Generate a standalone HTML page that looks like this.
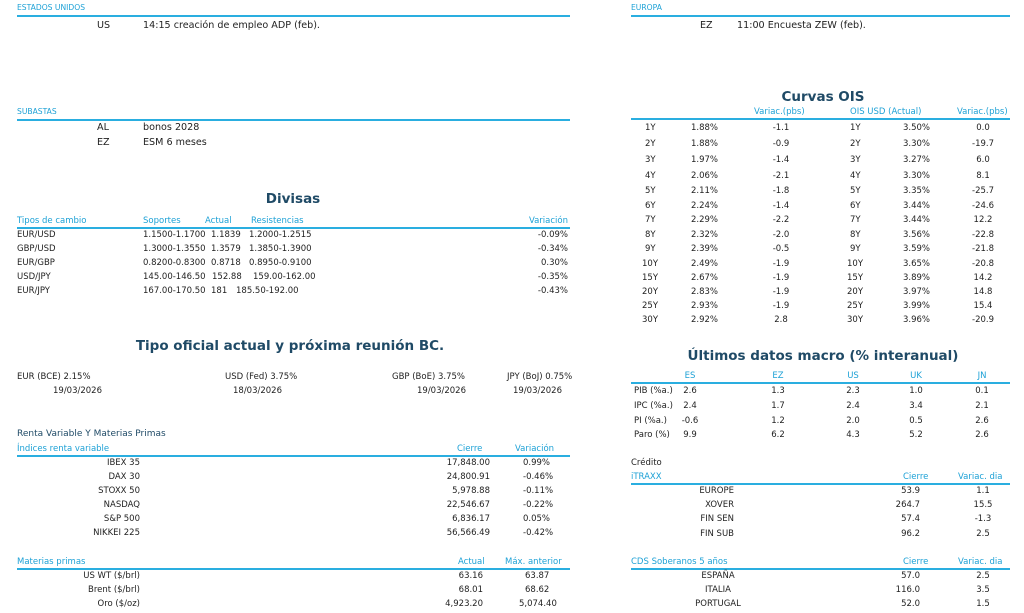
<!DOCTYPE html>
<html><head><meta charset="utf-8"><style>
body{margin:0;width:1024px;height:613px;background:#fff;position:relative;overflow:hidden;font-family:"DejaVu Sans","Liberation Sans",sans-serif;font-size:8.5px;color:#222}
span{position:absolute;white-space:nowrap;line-height:10px;transform:translateY(-50%)}
.r{transform:translate(-100%,-50%)}.c{transform:translate(-50%,-50%)}
.b{color:#1da1d6}
.s{font-size:7.6px}
.e{font-size:9.6px}
.h{font-size:13.5px;font-weight:bold;color:#1f4a66;line-height:18px}
.l{position:absolute;height:2px;background:#2aaee0}
.d{color:#1f4a66;font-size:9px}
</style></head><body>
<span class="b s" style="left:17px;top:8px">ESTADOS UNIDOS</span><div class="l" style="left:17px;width:553px;top:15px"></div>
<span class="e" style="left:97px;top:26px">US</span><span class="e" style="left:143px;top:26px">14:15 creación de empleo ADP (feb).</span>
<span class="b s" style="left:17px;top:112px">SUBASTAS</span><div class="l" style="left:17px;width:553px;top:119px"></div>
<span class="e" style="left:97px;top:128px">AL</span><span class="e" style="left:143px;top:128px">bonos 2028</span>
<span class="e" style="left:97px;top:143px">EZ</span><span class="e" style="left:143px;top:143px">ESM 6 meses</span>
<span class="h c" style="left:293px;top:199px">Divisas</span>
<span class="b" style="left:17px;top:221px">Tipos de cambio</span><span class="b" style="left:143px;top:221px">Soportes</span><span class="b" style="left:205px;top:221px">Actual</span><span class="b" style="left:251px;top:221px">Resistencias</span><span class="b r" style="left:568px;top:221px">Variación</span>
<div class="l" style="left:17px;width:553px;top:227px"></div>
<span style="left:17px;top:235px">EUR/USD</span><span style="left:143px;top:235px">1.1500-1.1700</span><span style="left:211px;top:235px">1.1839</span><span style="left:249px;top:235px">1.2000-1.2515</span><span class="r" style="left:568px;top:235px">-0.09%</span>
<span style="left:17px;top:249px">GBP/USD</span><span style="left:143px;top:249px">1.3000-1.3550</span><span style="left:211px;top:249px">1.3579</span><span style="left:249px;top:249px">1.3850-1.3900</span><span class="r" style="left:568px;top:249px">-0.34%</span>
<span style="left:17px;top:263px">EUR/GBP</span><span style="left:143px;top:263px">0.8200-0.8300</span><span style="left:211px;top:263px">0.8718</span><span style="left:249px;top:263px">0.8950-0.9100</span><span class="r" style="left:568px;top:263px">0.30%</span>
<span style="left:17px;top:277px">USD/JPY</span><span style="left:143px;top:277px">145.00-146.50</span><span style="left:212px;top:277px">152.88</span><span style="left:253px;top:277px">159.00-162.00</span><span class="r" style="left:568px;top:277px">-0.35%</span>
<span style="left:17px;top:291px">EUR/JPY</span><span style="left:143px;top:291px">167.00-170.50</span><span style="left:211px;top:291px">181</span><span style="left:236px;top:291px">185.50-192.00</span><span class="r" style="left:568px;top:291px">-0.43%</span>
<span class="h c" style="left:290px;top:346px">Tipo oficial actual y próxima reunión BC.</span>
<span style="left:17px;top:377px">EUR (BCE) 2.15%</span><span style="left:225px;top:377px">USD (Fed) 3.75%</span><span style="left:392px;top:377px">GBP (BoE) 3.75%</span><span style="left:507px;top:377px">JPY (BoJ) 0.75%</span>
<span style="left:53px;top:391px">19/03/2026</span><span style="left:233px;top:391px">18/03/2026</span><span style="left:417px;top:391px">19/03/2026</span><span style="left:513px;top:391px">19/03/2026</span>
<span class="d" style="left:17px;top:434px">Renta Variable Y Materias Primas</span>
<span class="b" style="left:17px;top:449px">Índices renta variable</span><span class="b" style="left:457px;top:449px">Cierre</span><span class="b" style="left:515px;top:449px">Variación</span>
<div class="l" style="left:17px;width:553px;top:455px"></div>
<span class="r" style="left:140px;top:463px">IBEX 35</span><span class="r" style="left:490px;top:463px">17,848.00</span><span style="left:523px;top:463px">0.99%</span>
<span class="r" style="left:140px;top:477px">DAX 30</span><span class="r" style="left:490px;top:477px">24,800.91</span><span style="left:523px;top:477px">-0.46%</span>
<span class="r" style="left:140px;top:491px">STOXX 50</span><span class="r" style="left:490px;top:491px">5,978.88</span><span style="left:523px;top:491px">-0.11%</span>
<span class="r" style="left:140px;top:505px">NASDAQ</span><span class="r" style="left:490px;top:505px">22,546.67</span><span style="left:523px;top:505px">-0.22%</span>
<span class="r" style="left:140px;top:519px">S&amp;P 500</span><span class="r" style="left:490px;top:519px">6,836.17</span><span style="left:523px;top:519px">0.05%</span>
<span class="r" style="left:140px;top:533px">NIKKEI 225</span><span class="r" style="left:490px;top:533px">56,566.49</span><span style="left:523px;top:533px">-0.42%</span>
<span class="b" style="left:17px;top:562px">Materias primas</span><span class="b" style="left:458px;top:562px">Actual</span><span class="b" style="left:505px;top:562px">Máx. anterior</span>
<div class="l" style="left:17px;width:553px;top:568px"></div>
<span class="r" style="left:140px;top:576px">US WT ($/brl)</span><span class="r" style="left:483px;top:576px">63.16</span><span style="left:525px;top:576px">63.87</span>
<span class="r" style="left:140px;top:590px">Brent ($/brl)</span><span class="r" style="left:483px;top:590px">68.01</span><span style="left:525px;top:590px">68.62</span>
<span class="r" style="left:140px;top:604px">Oro ($/oz)</span><span class="r" style="left:483px;top:604px">4,923.20</span><span style="left:519px;top:604px">5,074.40</span>

<span class="b s" style="left:631px;top:8px">EUROPA</span><div class="l" style="left:631px;width:379px;top:15px"></div>
<span class="e" style="left:700px;top:26px">EZ</span><span class="e" style="left:737px;top:26px">11:00 Encuesta ZEW (feb).</span>
<span class="h c" style="left:823px;top:97px">Curvas OIS</span>
<span class="b" style="left:754px;top:112px">Variac.(pbs)</span><span class="b" style="left:850px;top:112px">OIS USD (Actual)</span><span class="b" style="left:957px;top:112px">Variac.(pbs)</span>
<div class="l" style="left:631px;width:379px;top:118px"></div>
<span style="left:645px;top:128px">1Y</span><span style="left:691px;top:128px">1.88%</span><span class="c" style="left:781px;top:128px">-1.1</span><span style="left:850px;top:128px">1Y</span><span class="r" style="left:930px;top:128px">3.50%</span><span class="c" style="left:983px;top:128px">0.0</span>
<span style="left:645px;top:144px">2Y</span><span style="left:691px;top:144px">1.88%</span><span class="c" style="left:781px;top:144px">-0.9</span><span style="left:850px;top:144px">2Y</span><span class="r" style="left:930px;top:144px">3.30%</span><span class="c" style="left:983px;top:144px">-19.7</span>
<span style="left:645px;top:160px">3Y</span><span style="left:691px;top:160px">1.97%</span><span class="c" style="left:781px;top:160px">-1.4</span><span style="left:850px;top:160px">3Y</span><span class="r" style="left:930px;top:160px">3.27%</span><span class="c" style="left:983px;top:160px">6.0</span>
<span style="left:645px;top:176px">4Y</span><span style="left:691px;top:176px">2.06%</span><span class="c" style="left:781px;top:176px">-2.1</span><span style="left:850px;top:176px">4Y</span><span class="r" style="left:930px;top:176px">3.30%</span><span class="c" style="left:983px;top:176px">8.1</span>
<span style="left:645px;top:191px">5Y</span><span style="left:691px;top:191px">2.11%</span><span class="c" style="left:781px;top:191px">-1.8</span><span style="left:850px;top:191px">5Y</span><span class="r" style="left:930px;top:191px">3.35%</span><span class="c" style="left:983px;top:191px">-25.7</span>
<span style="left:645px;top:206px">6Y</span><span style="left:691px;top:206px">2.24%</span><span class="c" style="left:781px;top:206px">-1.4</span><span style="left:850px;top:206px">6Y</span><span class="r" style="left:930px;top:206px">3.44%</span><span class="c" style="left:983px;top:206px">-24.6</span>
<span style="left:645px;top:220px">7Y</span><span style="left:691px;top:220px">2.29%</span><span class="c" style="left:781px;top:220px">-2.2</span><span style="left:850px;top:220px">7Y</span><span class="r" style="left:930px;top:220px">3.44%</span><span class="c" style="left:983px;top:220px">12.2</span>
<span style="left:645px;top:235px">8Y</span><span style="left:691px;top:235px">2.32%</span><span class="c" style="left:781px;top:235px">-2.0</span><span style="left:850px;top:235px">8Y</span><span class="r" style="left:930px;top:235px">3.56%</span><span class="c" style="left:983px;top:235px">-22.8</span>
<span style="left:645px;top:249px">9Y</span><span style="left:691px;top:249px">2.39%</span><span class="c" style="left:781px;top:249px">-0.5</span><span style="left:850px;top:249px">9Y</span><span class="r" style="left:930px;top:249px">3.59%</span><span class="c" style="left:983px;top:249px">-21.8</span>
<span style="left:642px;top:264px">10Y</span><span style="left:691px;top:264px">2.49%</span><span class="c" style="left:781px;top:264px">-1.9</span><span style="left:847px;top:264px">10Y</span><span class="r" style="left:930px;top:264px">3.65%</span><span class="c" style="left:983px;top:264px">-20.8</span>
<span style="left:642px;top:278px">15Y</span><span style="left:691px;top:278px">2.67%</span><span class="c" style="left:781px;top:278px">-1.9</span><span style="left:847px;top:278px">15Y</span><span class="r" style="left:930px;top:278px">3.89%</span><span class="c" style="left:983px;top:278px">14.2</span>
<span style="left:642px;top:292px">20Y</span><span style="left:691px;top:292px">2.83%</span><span class="c" style="left:781px;top:292px">-1.9</span><span style="left:847px;top:292px">20Y</span><span class="r" style="left:930px;top:292px">3.97%</span><span class="c" style="left:983px;top:292px">14.8</span>
<span style="left:642px;top:306px">25Y</span><span style="left:691px;top:306px">2.93%</span><span class="c" style="left:781px;top:306px">-1.9</span><span style="left:847px;top:306px">25Y</span><span class="r" style="left:930px;top:306px">3.99%</span><span class="c" style="left:983px;top:306px">15.4</span>
<span style="left:642px;top:320px">30Y</span><span style="left:691px;top:320px">2.92%</span><span class="c" style="left:781px;top:320px">2.8</span><span style="left:847px;top:320px">30Y</span><span class="r" style="left:930px;top:320px">3.96%</span><span class="c" style="left:983px;top:320px">-20.9</span>
<span class="h c" style="left:823px;top:356px">Últimos datos macro (% interanual)</span>
<span class="b c" style="left:690px;top:376px">ES</span><span class="b c" style="left:778px;top:376px">EZ</span><span class="b c" style="left:853px;top:376px">US</span><span class="b c" style="left:916px;top:376px">UK</span><span class="b c" style="left:982px;top:376px">JN</span>
<div class="l" style="left:631px;width:379px;top:382px"></div>
<span style="left:634px;top:391px">PIB (%a.)</span><span class="c" style="left:690px;top:391px">2.6</span><span class="c" style="left:778px;top:391px">1.3</span><span class="c" style="left:853px;top:391px">2.3</span><span class="c" style="left:916px;top:391px">1.0</span><span class="c" style="left:982px;top:391px">0.1</span>
<span style="left:634px;top:406px">IPC (%a.)</span><span class="c" style="left:690px;top:406px">2.4</span><span class="c" style="left:778px;top:406px">1.7</span><span class="c" style="left:853px;top:406px">2.4</span><span class="c" style="left:916px;top:406px">3.4</span><span class="c" style="left:982px;top:406px">2.1</span>
<span style="left:634px;top:421px">PI (%a.)</span><span class="c" style="left:690px;top:421px">-0.6</span><span class="c" style="left:778px;top:421px">1.2</span><span class="c" style="left:853px;top:421px">2.0</span><span class="c" style="left:916px;top:421px">0.5</span><span class="c" style="left:982px;top:421px">2.6</span>
<span style="left:634px;top:435px">Paro (%)</span><span class="c" style="left:690px;top:435px">9.9</span><span class="c" style="left:778px;top:435px">6.2</span><span class="c" style="left:853px;top:435px">4.3</span><span class="c" style="left:916px;top:435px">5.2</span><span class="c" style="left:982px;top:435px">2.6</span>
<span style="left:631px;top:463px">Crédito</span>
<span class="b" style="left:631px;top:477px">iTRAXX</span><span class="b" style="left:903px;top:477px">Cierre</span><span class="b" style="left:958px;top:477px">Variac. dia</span>
<div class="l" style="left:631px;width:379px;top:483px"></div>
<span class="r" style="left:734px;top:491px">EUROPE</span><span class="r" style="left:920px;top:491px">53.9</span><span class="c" style="left:983px;top:491px">1.1</span>
<span class="r" style="left:734px;top:505px">XOVER</span><span class="r" style="left:920px;top:505px">264.7</span><span class="c" style="left:983px;top:505px">15.5</span>
<span class="r" style="left:734px;top:519px">FIN SEN</span><span class="r" style="left:920px;top:519px">57.4</span><span class="c" style="left:983px;top:519px">-1.3</span>
<span class="r" style="left:734px;top:534px">FIN SUB</span><span class="r" style="left:920px;top:534px">96.2</span><span class="c" style="left:983px;top:534px">2.5</span>
<span class="b" style="left:631px;top:562px">CDS Soberanos 5 años</span><span class="b" style="left:903px;top:562px">Cierre</span><span class="b" style="left:958px;top:562px">Variac. dia</span>
<div class="l" style="left:631px;width:379px;top:568px"></div>
<span class="c" style="left:718px;top:576px">ESPAÑA</span><span class="r" style="left:920px;top:576px">57.0</span><span class="c" style="left:983px;top:576px">2.5</span>
<span class="c" style="left:718px;top:590px">ITALIA</span><span class="r" style="left:920px;top:590px">116.0</span><span class="c" style="left:983px;top:590px">3.5</span>
<span class="c" style="left:718px;top:604px">PORTUGAL</span><span class="r" style="left:920px;top:604px">52.0</span><span class="c" style="left:983px;top:604px">1.5</span>
</body></html>
